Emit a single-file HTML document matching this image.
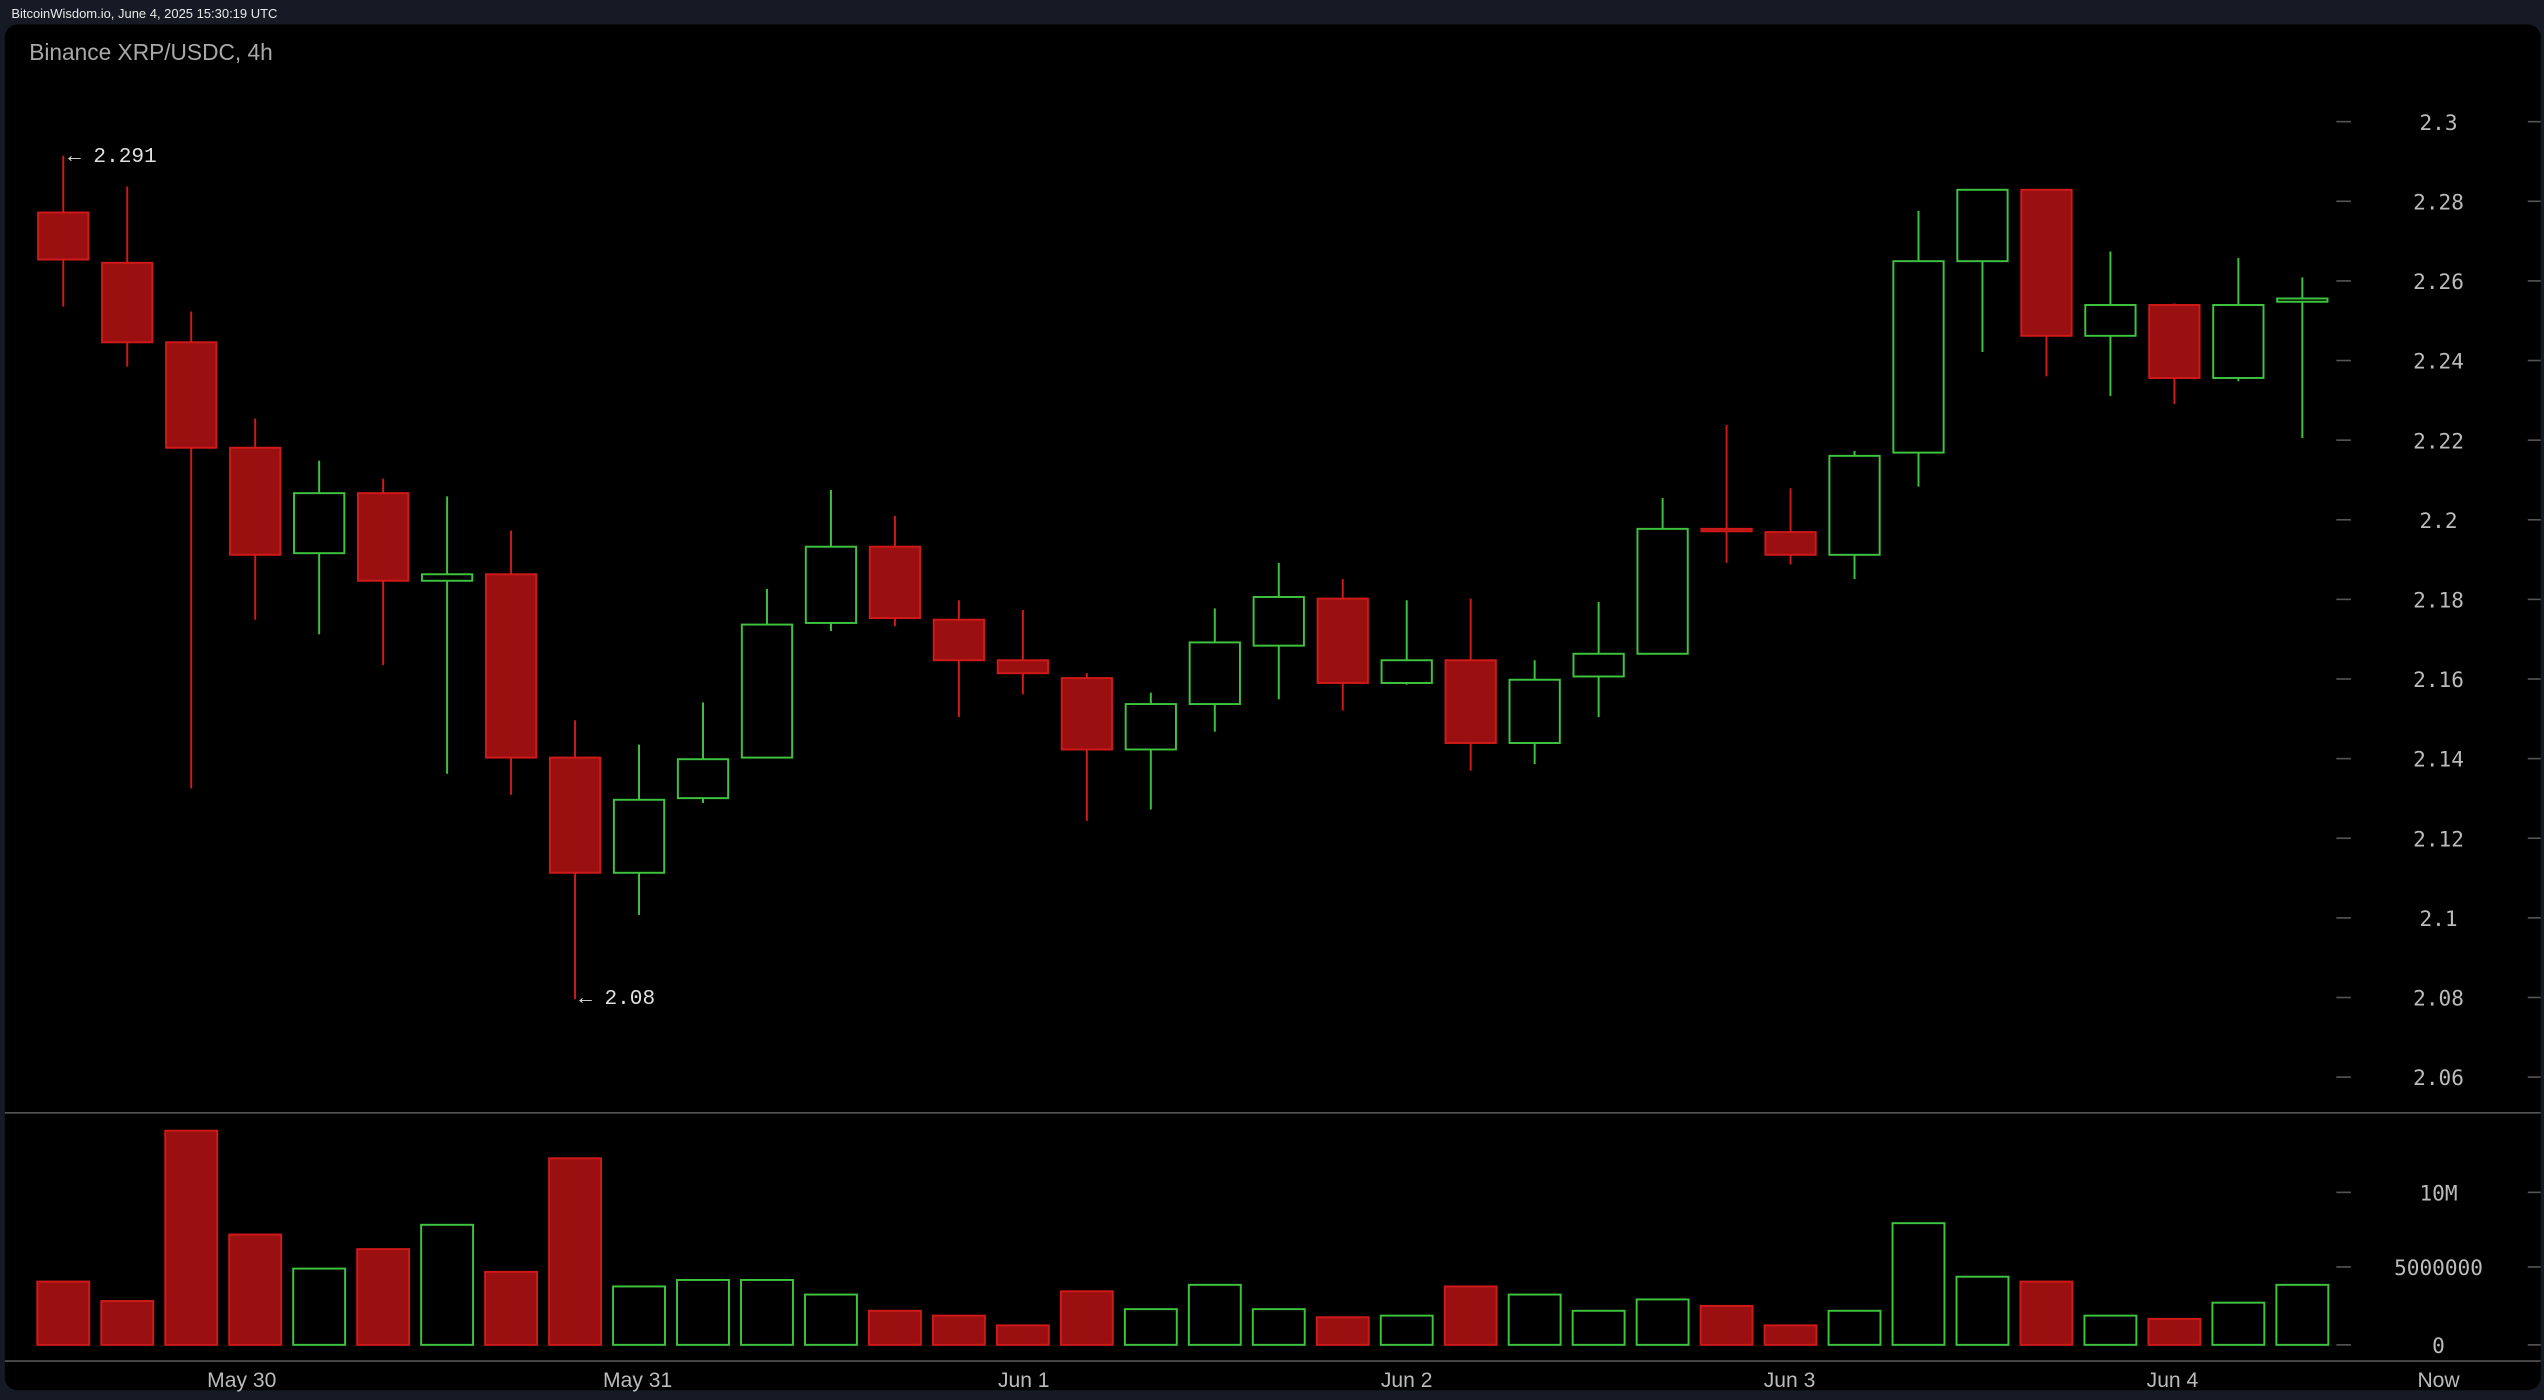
<!DOCTYPE html>
<html><head><meta charset="utf-8"><style>
html,body{margin:0;padding:0;background:#151a24;}
svg{display:block;}
</style></head><body>
<svg id="c" width="2544" height="1400" viewBox="0 0 1568 863" preserveAspectRatio="none" xmlns="http://www.w3.org/2000/svg">
<rect x="0" y="0" width="1568" height="863" fill="#151a24"/>
<rect x="3" y="15" width="1563" height="842" rx="8" fill="#000"/>
<text x="7" y="11" font-family="Liberation Sans, sans-serif" font-size="8" fill="#e8e8e8">BitcoinWisdom.io, June 4, 2025 15:30:19 UTC</text>
<text x="18" y="37" font-family="Liberation Sans, sans-serif" font-size="14" fill="#a8a8a8">Binance XRP/USDC, 4h</text>
<line x1="3" y1="686" x2="1566" y2="686" stroke="#555" stroke-width="1"/>
<line x1="3" y1="839" x2="1566" y2="839" stroke="#555" stroke-width="1"/>
<g id="g"></g>
<text x="42" y="100" font-family="Liberation Mono, monospace" font-size="13" fill="#e0e0e0">← 2.291</text>
<text x="357" y="619" font-family="Liberation Mono, monospace" font-size="13" fill="#e0e0e0">← 2.08</text>
</svg>
<script>
var g=document.getElementById('g'),h='';
var C=[[96,131,160,189,0],[115,162,211,226,0],[192,211,276,486,0],[258,276,342,382,0],[284,304,341,391,1],[295,304,358,410,0],[306,354,358,477,1],[327,354,467,490,0],[444,467,538,616,0],[459,493,538,564,1],[433,468,492,495,1],[363,385,467,467,1],[302,337,384,389,1],[318,337,381,386,0],[370,382,407,442,0],[376,407,415,428,0],[415,418,462,506,0],[427,434,462,499,1],[375,396,434,451,1],[347,368,398,431,1],[357,369,421,438,0],[370,407,421,422,1],[369,407,458,475,0],[407,419,458,471,1],[371,403,417,442,1],[307,326,403,403,1],[262,326,327,347,0],[301,328,342,348,0],[278,281,342,357,1],[130,161,279,300,1],[117,117,161,217,1],[117,117,207,232,0],[155,188,207,244,1],[187,188,233,249,0],[159,188,233,235,1],[171,184,186,270,1]];
var V=[790,802,697,761,782,770,755,784,714,793,789,789,798,808,811,817,796,807,792,807,812,811,793,798,808,801,805,817,808,754,787,790,811,813,803,792];
for(var i=0;i<36;i++){var x=39+i*39.43,c=C[i],gr=c[4],st=gr?'#3ec43e':'#d01a1a',fl=gr?'#000':'#9a1010';
h+='<line x1="'+x+'" y1="'+c[0]+'" x2="'+x+'" y2="'+c[3]+'" stroke="'+st+'" stroke-width="1.2"/>';
h+='<rect x="'+(x-15.5)+'" y="'+c[1]+'" width="31" height="'+Math.max(c[2]-c[1],1.5)+'" fill="'+fl+'" stroke="'+st+'" stroke-width="1.2"/>';
h+='<rect x="'+(x-16)+'" y="'+V[i]+'" width="32" height="'+(829-V[i])+'" fill="'+fl+'" stroke="'+st+'" stroke-width="1.2"/>';}
var P=['2.3','2.28','2.26','2.24','2.22','2.2','2.18','2.16','2.14','2.12','2.1','2.08','2.06'];
for(var j=0;j<13;j++){var y=75+j*49.08;
h+='<line x1="1440" y1="'+y+'" x2="1449" y2="'+y+'" stroke="#555"/><line x1="1558" y1="'+y+'" x2="1566" y2="'+y+'" stroke="#555"/>';
h+='<text x="1503" y="'+(y+5)+'" text-anchor="middle" font-family="DejaVu Sans Mono, monospace" font-size="13" fill="#bbb">'+P[j]+'</text>';}
[[735,'10M'],[781,'5000000'],[829,'0']].forEach(function(a){
h+='<line x1="1440" y1="'+a[0]+'" x2="1449" y2="'+a[0]+'" stroke="#555"/><line x1="1558" y1="'+a[0]+'" x2="1566" y2="'+a[0]+'" stroke="#555"/>';
h+='<text x="1503" y="'+(a[0]+5)+'" text-anchor="middle" font-family="DejaVu Sans Mono, monospace" font-size="13" fill="#bbb">'+a[1]+'</text>';});
[[149,'May 30'],[393,'May 31'],[631,'Jun 1'],[867,'Jun 2'],[1103,'Jun 3'],[1339,'Jun 4'],[1503,'Now']].forEach(function(a){
h+='<text x="'+a[0]+'" y="855" text-anchor="middle" font-family="Liberation Sans, sans-serif" font-size="13" fill="#bbb">'+a[1]+'</text>';});
g.innerHTML=h;
</script>
</body></html>
